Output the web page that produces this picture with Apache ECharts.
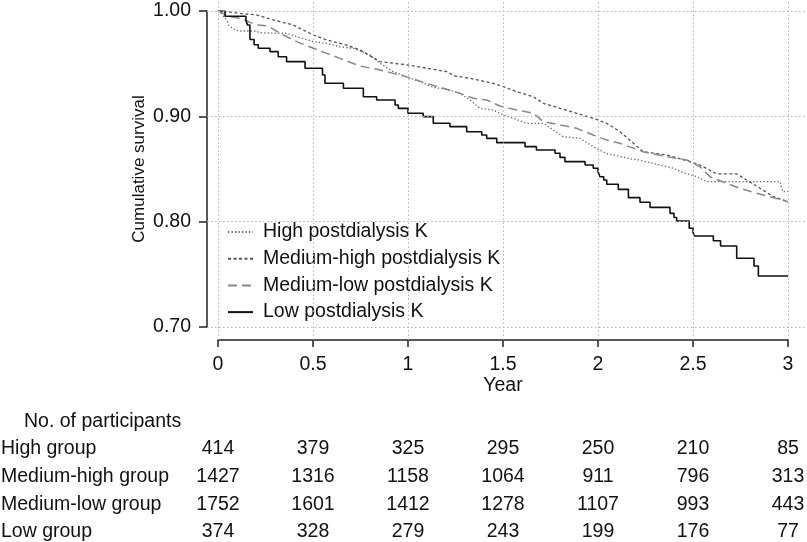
<!DOCTYPE html>
<html><head><meta charset="utf-8">
<script src="https://cdn.jsdelivr.net/npm/echarts@6/dist/echarts.min.js"></script>
<style>html,body{margin:0;padding:0;background:#fff}#c{width:807px;height:542px}</style>
</head><body><div id="c"></div>
<script>
const FONT = '"Liberation Sans", Arial, Helvetica, sans-serif';
const seriesNames = ['High postdialysis K','Medium-high postdialysis K','Medium-low postdialysis K','Low postdialysis K'];
const groupLabels = ['High group','Medium-high group','Medium-low group','Low group'];
const tableTitle = 'No. of participants';
const xTicks = [0,0.5,1,1.5,2,2.5,3];
const yTicks = [0.7,0.8,0.9,1.0];
const highCounts = [414,379,325,295,250,210,85];
const medHighCounts = [1427,1316,1158,1064,911,796,313];
const medLowCounts = [1752,1601,1412,1278,1107,993,443];
const lowCounts = [374,328,279,243,199,176,77];

const highK = [[0,1.0],[0.02,0.997],[0.046,0.9915],[0.054,0.9867],[0.089,0.982],[0.12,0.981],[0.204,0.981],[0.215,0.9795],[0.309,0.9788],[0.361,0.979],[0.414,0.9756],[0.502,0.9709],[0.572,0.9693],[0.642,0.966],[0.712,0.9646],[0.8,0.9582],[0.853,0.9503],[0.923,0.9424],[0.993,0.9376],[1.063,0.9329],[1.133,0.9275],[1.204,0.9257],[1.274,0.9218],[1.326,0.9155],[1.379,0.9076],[1.449,0.906],[1.502,0.9013],[1.554,0.8981],[1.625,0.8934],[1.712,0.8934],[1.765,0.887],[1.817,0.8807],[1.905,0.8791],[1.975,0.8712],[2.046,0.8645],[2.186,0.8592],[2.2,0.8592],[2.396,0.8507],[2.449,0.8465],[2.519,0.8427],[2.572,0.838],[2.958,0.838],[2.972,0.8285],[3.0,0.8285]];
const medHighK = [[0,1.0],[0.116,0.9978],[0.204,0.9962],[0.291,0.9915],[0.396,0.9867],[0.502,0.9772],[0.572,0.9725],[0.677,0.9677],[0.747,0.963],[0.853,0.9519],[1.002,0.9487],[1.204,0.9424],[1.247,0.9383],[1.326,0.9361],[1.449,0.9313],[1.502,0.9282],[1.572,0.9234],[1.66,0.9186],[1.712,0.9124],[1.8,0.9076],[1.888,0.9029],[1.975,0.8981],[2.046,0.8934],[2.116,0.8854],[2.238,0.8664],[2.361,0.8633],[2.484,0.857],[2.537,0.8538],[2.625,0.8453],[2.73,0.8453],[2.782,0.8396],[2.853,0.8317],[2.923,0.8237],[3.0,0.819]];
const medLowK = [[0,1.0],[0.063,0.9946],[0.116,0.993],[0.204,0.9867],[0.265,0.9858],[0.326,0.9788],[0.414,0.9709],[0.502,0.9646],[0.572,0.9598],[0.642,0.955],[0.747,0.9478],[0.853,0.944],[0.923,0.9408],[1.002,0.937],[1.098,0.9313],[1.186,0.9266],[1.274,0.9218],[1.344,0.9171],[1.414,0.9155],[1.484,0.9098],[1.572,0.906],[1.66,0.9029],[1.712,0.8949],[1.8,0.8918],[1.888,0.8886],[1.975,0.8823],[2.046,0.8775],[2.116,0.8744],[2.238,0.8664],[2.361,0.8617],[2.467,0.8586],[2.537,0.8522],[2.589,0.8427],[2.677,0.8364],[2.747,0.8317],[2.835,0.8269],[2.905,0.8237],[3.0,0.819]];
const lowK = [[0,1.0],[0.037,0.995],[0.147,0.9915],[0.155,0.9867],[0.168,0.973],[0.19,0.968],[0.212,0.9646],[0.274,0.9614],[0.317,0.9566],[0.361,0.9519],[0.458,0.9456],[0.55,0.9392],[0.563,0.9314],[0.66,0.9266],[0.765,0.9186],[0.835,0.9155],[0.932,0.9107],[0.949,0.9076],[1.0,0.9029],[1.08,0.8997],[1.133,0.8934],[1.221,0.8902],[1.309,0.8854],[1.388,0.8823],[1.414,0.8791],[1.467,0.875],[1.616,0.8712],[1.676,0.868],[1.774,0.8649],[1.8,0.861],[1.826,0.857],[1.932,0.8538],[1.975,0.8507],[2.0,0.8475],[2.01,0.8427],[2.03,0.8396],[2.046,0.8355],[2.107,0.8307],[2.16,0.8228],[2.221,0.8184],[2.274,0.8136],[2.379,0.8079],[2.4,0.804],[2.414,0.8006],[2.48,0.7937],[2.5,0.79],[2.507,0.7864],[2.607,0.7819],[2.645,0.7769],[2.73,0.7652],[2.821,0.7579],[2.844,0.7484],[3.0,0.7484]];

// layout (pixels)
const PL = 218, PR = 788, PT = 11, PB = 327;   // data area
const YAX = 207, XAX = 340;                    // detached axis lines
const RR = 807, RT = 0;                        // reference-line region
const xPer = (PR - PL) / 3, yPer = (PB - PT) / 0.3;

const chart = echarts.init(document.getElementById('c'), null, {renderer: 'canvas'});
const txt = {fontFamily: FONT, fontSize: 19.5, color: '#111'};
const axisCol = '#222';
const gridLine = {type: [1.5, 2.5], color: '#b3b3b3', width: 1};
const hidden = (gi) => ({type: 'value', gridIndex: gi, min: 0, max: 1, show: false});

const option = {
  animation: false,
  backgroundColor: '#fff',
  grid: [
    {left: YAX, top: RT, width: RR - YAX, height: XAX - RT},
    {left: PL, top: PT, width: PR - PL, height: PB - PT},
    {left: PL, top: PT, width: PR - PL, height: XAX - PT},
    {left: YAX, top: PT, width: PR - YAX, height: PB - PT}
  ],
  xAxis: [
    {type: 'value', gridIndex: 0, min: -(PL - YAX) / xPer, max: 3 + (RR - PR) / xPer, show: false},
    {type: 'value', gridIndex: 1, min: 0, max: 3, show: false},
    {type: 'value', gridIndex: 2, min: 0, max: 3, interval: 0.5, position: 'bottom',
     axisLine: {show: true, onZero: false, lineStyle: {color: axisCol, width: 1.5}},
     axisTick: {show: true, length: 7, lineStyle: {color: axisCol, width: 1.5}},
     axisLabel: Object.assign({show: true, margin: 15}, txt), splitLine: {show: false}},
    hidden(3)
  ],
  yAxis: [
    {type: 'value', gridIndex: 0, min: 1 - (XAX - PT) / yPer, max: 1 + (PT - RT) / yPer, show: false},
    {type: 'value', gridIndex: 1, min: 0.7, max: 1.0, show: false},
    hidden(2),
    {type: 'value', gridIndex: 3, min: 0.7, max: 1.0, interval: 0.1, position: 'left',
     axisLine: {show: true, onZero: false, lineStyle: {color: axisCol, width: 1.5}},
     axisTick: {show: true, length: 8, lineStyle: {color: axisCol, width: 1.5}},
     axisLabel: Object.assign({show: true, margin: 16, formatter: v => v.toFixed(2)}, txt), splitLine: {show: false}}
  ],
  legend: {
    orient: 'vertical', left: 220, top: 213, backgroundColor: '#fff',
    padding: [9, 2, 9, 7], itemWidth: 25, itemHeight: 14, itemGap: 6.7,
    data: seriesNames,
    itemStyle: {color: 'rgba(0,0,0,0)', borderColor: 'rgba(0,0,0,0)', borderWidth: 0, opacity: 0},
    textStyle: Object.assign({padding: [0, 0, 0, 5], lineHeight: 20}, txt)
  },
  series: [
    {type: 'line', xAxisIndex: 0, yAxisIndex: 0, data: [[0, 1]], symbol: 'none', silent: true,
     lineStyle: {opacity: 0}, z: 1,
     markLine: {symbol: 'none', silent: true, label: {show: false}, lineStyle: gridLine, animation: false,
       data: xTicks.map(v => ({xAxis: v})).concat(yTicks.map(v => ({yAxis: v})))}},
    {name: seriesNames[0], type: 'line', xAxisIndex: 1, yAxisIndex: 1, data: highK, symbol: 'none',
     lineStyle: {color: '#666', width: 1.3, type: [1.3, 2.2]}, itemStyle: {color: '#666'}, z: 3},
    {name: seriesNames[1], type: 'line', xAxisIndex: 1, yAxisIndex: 1, data: medHighK, symbol: 'none',
     lineStyle: {color: '#555', width: 1.3, type: [3, 2.5]}, itemStyle: {color: '#555'}, z: 3},
    {name: seriesNames[2], type: 'line', xAxisIndex: 1, yAxisIndex: 1, data: medLowK, symbol: 'none',
     lineStyle: {color: '#888', width: 1.5, type: [9, 5]}, itemStyle: {color: '#888'}, z: 3},
    {name: seriesNames[3], type: 'line', xAxisIndex: 1, yAxisIndex: 1, data: lowK, symbol: 'none', step: 'end',
     lineStyle: {color: '#111', width: 1.6}, itemStyle: {color: '#111'}, z: 4}
  ]
};
chart.setOption(option);

const xs = xTicks.map(t => chart.convertToPixel({xAxisIndex: 2}, t));
const rows = [highCounts, medHighCounts, medLowCounts, lowCounts];
const rowY = [449, 477, 505, 532];
const graphic = [];
const T = (text, x, y, align, size) => ({type: 'text', x: x, y: y, silent: true,
  style: {text: text, align: align, verticalAlign: 'middle', font: (size || 19.5) + 'px ' + FONT, fill: '#111'}});
graphic.push(T(tableTitle, 24, 422, 'left'));
groupLabels.forEach((g, i) => graphic.push(T(g, 1, rowY[i], 'left')));
rows.forEach((r, i) => r.forEach((v, j) => graphic.push(T(String(v), xs[j], rowY[i], 'center'))));
graphic.push(T('Year', chart.convertToPixel({xAxisIndex: 2}, 1.5), 386, 'center'));
const yt = T('Cumulative survival', 139, (PT + PB) / 2, 'center', 17);
yt.rotation = Math.PI / 2;
graphic.push(yt);
chart.setOption({graphic: graphic});
</script>
</body></html>
